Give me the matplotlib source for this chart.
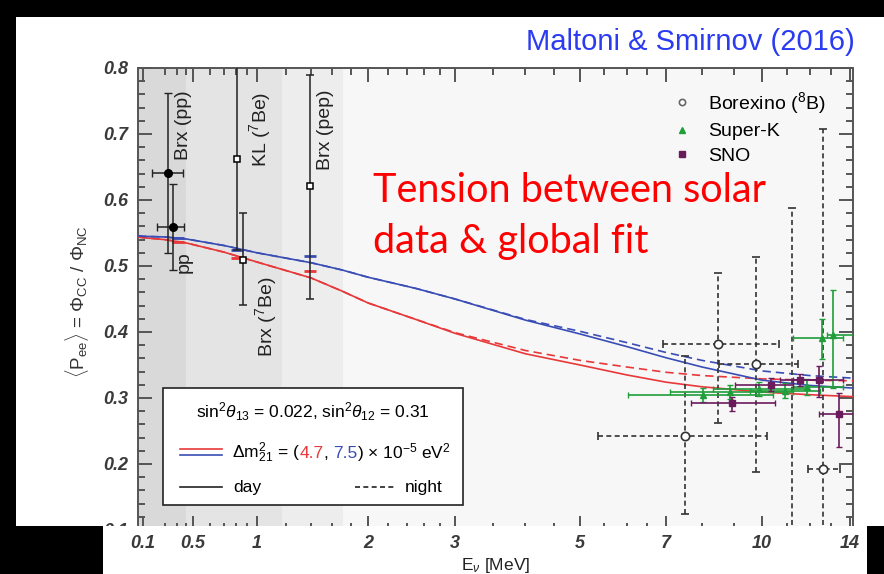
import matplotlib
matplotlib.use('Agg')
import matplotlib.pyplot as plt
import numpy as np
from matplotlib.patches import Rectangle
from matplotlib.ticker import FixedLocator, FixedFormatter, MultipleLocator, NullFormatter

plt.rcParams['font.family'] = ['Liberation Sans', 'DejaVu Sans']
plt.rcParams['mathtext.fontset'] = 'custom'
plt.rcParams['mathtext.rm'] = 'Liberation Sans'
plt.rcParams['mathtext.it'] = 'Liberation Sans:italic'
plt.rcParams['mathtext.bf'] = 'Liberation Sans:bold'

# ---- model curves (P_ee vs E) ----
curve_e = [0.085, 0.1, 0.2, 0.4, 0.7, 1.0, 1.4, 1.7, 2.0, 2.5, 3.0, 4.0, 5.0, 6.0, 7.0, 8.0, 10.0, 12.0, 14.2]
blue_day = [0.546, 0.545, 0.544, 0.541, 0.531, 0.520, 0.505, 0.494, 0.483, 0.466, 0.450, 0.418, 0.397, 0.378, 0.361, 0.347, 0.327, 0.319, 0.315]
blue_night = [0.546, 0.545, 0.544, 0.541, 0.531, 0.520, 0.505, 0.494, 0.483, 0.466, 0.450, 0.419, 0.401, 0.384, 0.369, 0.357, 0.341, 0.334, 0.330]
red_day = [0.544, 0.543, 0.540, 0.535, 0.521, 0.506, 0.482, 0.462, 0.444, 0.419, 0.398, 0.367, 0.350, 0.335, 0.324, 0.317, 0.309, 0.305, 0.302]
red_night = [0.544, 0.543, 0.540, 0.535, 0.521, 0.506, 0.482, 0.462, 0.444, 0.419, 0.399, 0.372, 0.357, 0.347, 0.339, 0.334, 0.329, 0.327, 0.326]

# model predictions marked at the low energy lines
model_e = [0.309, 0.805, 1.392]
model_blue = [0.543, 0.524, 0.515]
model_red = [0.536, 0.512, 0.492]

# ---- low energy points ----
pp_e = [0.224, 0.263]
pp_y = [0.641, 0.559]
pp_ylo = [0.520, 0.494]
pp_yhi = [0.762, 0.624]
pp_elo = [0.134, 0.157]
pp_ehi = [0.362, 0.374]

sq_e = [0.805, 0.859, 1.392]          # KL(7Be), Brx(7Be), Brx(pep)
sq_y = [0.662, 0.509, 0.621]
sq_ylo = [0.524, 0.441, 0.450]
sq_yhi = [0.900, 0.580, 0.790]

# ---- Borexino 8B ----
b8_e = [8.49, 9.78, 7.51, 12.63, 11.22]
b8_y = [0.382, 0.352, 0.242, 0.192, 0.05]
b8_ylo = [0.262, 0.188, 0.124, 0.02, 0.0]
b8_yhi = [0.490, 0.514, 0.364, 0.707, 0.588]
b8_elo = [6.92, 8.52, 5.36, 11.92, 11.22]
b8_ehi = [10.67, 11.48, 10.19, 13.48, 11.22]

# ---- Super-K ----
sk_e = [8.03, 8.88, 9.89, 10.92, 11.88, 12.58, 13.12]
sk_y = [0.305, 0.309, 0.314, 0.311, 0.317, 0.391, 0.395]
sk_ylo = [0.294, 0.298, 0.303, 0.300, 0.305, 0.359, 0.315]
sk_yhi = [0.315, 0.320, 0.325, 0.322, 0.329, 0.420, 0.464]
sk_elo = [6.03, 7.10, 8.34, 9.56, 11.26, 11.26, 12.82]
sk_ehi = [10.43, 11.26, 11.88, 12.48, 13.63, 13.63, 14.6]

# ---- SNO ----
sno_e = [8.95, 10.35, 11.56, 12.44, 13.42]
sno_y = [0.292, 0.320, 0.327, 0.327, 0.276]
sno_ylo = [0.280, 0.311, 0.318, 0.302, 0.226]
sno_yhi = [0.302, 0.330, 0.336, 0.348, 0.307]
sno_elo = [7.68, 9.05, 10.71, 11.26, 12.44]
sno_ehi = [10.51, 11.26, 12.48, 13.63, 14.4]

# shaded energy ranges
band_lo = [0.085, 0.40, 1.17]
band_hi = [0.40, 1.17, 1.71]
band_col = ['#d9d9d9', '#e4e4e4', '#ededed']

x_major = [0.1, 0.5, 1, 2, 3, 5, 7, 10, 14]
x_major_lab = ['0.1', '0.5', '1', '2', '3', '5', '7', '10', '14']
x_minor = [0.2, 0.3, 0.4, 0.6, 0.7, 0.8, 0.9, 1.2, 1.4, 1.6, 1.8, 2.2, 2.4, 2.6, 2.8,
           3.5, 4, 4.5, 5.5, 6, 6.5, 8, 9, 11, 12, 13]

# compressed energy axis: piecewise log between anchor energies
KNOT_E = np.log(np.array([0.1, 0.5, 1, 2, 3, 5, 7, 10, 14]))
KNOT_P = np.array([143, 193, 257, 368, 455, 580, 666, 762, 850], float)
S0 = (KNOT_P[1] - KNOT_P[0]) / (KNOT_E[1] - KNOT_E[0])
S1 = (KNOT_P[-1] - KNOT_P[-2]) / (KNOT_E[-1] - KNOT_E[-2])

def fwd(e):
    le = np.log(np.clip(np.asarray(e, float), 1e-9, None))
    p = np.interp(le, KNOT_E, KNOT_P)
    p = np.where(le < KNOT_E[0], KNOT_P[0] + (le - KNOT_E[0]) * S0, p)
    p = np.where(le > KNOT_E[-1], KNOT_P[-1] + (le - KNOT_E[-1]) * S1, p)
    return p

def inv(p):
    p = np.asarray(p, float)
    le = np.interp(p, KNOT_P, KNOT_E)
    le = np.where(p < KNOT_P[0], KNOT_E[0] + (p - KNOT_P[0]) / S0, le)
    le = np.where(p > KNOT_P[-1], KNOT_E[-1] + (p - KNOT_P[-1]) / S1, le)
    return np.exp(le)

W, H = 884, 574
RED = '#e8383a'
BLUE = '#3a4db5'
GREEN = '#1f9e3a'
PURPLE = '#6a1b5c'
GREY = '#3a3a3a'

fig = plt.figure(figsize=(W / 100, H / 100), dpi=100, facecolor='black')
fig.add_artist(Rectangle((16 / W, (H - 526) / H), (W - 16) / W, (526 - 17) / H,
                         transform=fig.transFigure, fc='white', ec='none', zorder=-1))
fig.add_artist(Rectangle((103 / W, 0), (867 - 103) / W, (H - 526) / H,
                         transform=fig.transFigure, fc='white', ec='none', zorder=1))

ax = fig.add_axes([138 / W, (H - 530) / H, 715 / W, 462 / H])
ax.set_facecolor('#f7f7f7')
ax.set_xscale('function', functions=(fwd, inv))
ax.set_xlim(0.085, 14.16)
ax.set_ylim(0.1, 0.8)

for lo, hi, c in zip(band_lo, band_hi, band_col):
    ax.axvspan(lo, hi, color=c, lw=0, zorder=0)

# curves
ax.plot(curve_e, red_day, color=RED, lw=1.2, zorder=3)
ax.plot(curve_e, red_night, color=RED, lw=1.2, ls=(0, (5, 3)), zorder=3)
ax.plot(curve_e, blue_day, color=BLUE, lw=1.2, zorder=3)
ax.plot(curve_e, blue_night, color=BLUE, lw=1.2, ls=(0, (5, 3)), zorder=3)
ax.plot(model_e, model_blue, ls='none', marker='_', ms=8, mew=2, color=BLUE, zorder=4)
ax.plot(model_e, model_red, ls='none', marker='_', ms=8, mew=2, color=RED, zorder=4)

# low energy data
pp_e_a = np.array(pp_e)
ax.errorbar(pp_e, pp_y,
            yerr=[np.array(pp_y) - pp_ylo, np.array(pp_yhi) - pp_y],
            xerr=[pp_e_a - pp_elo, np.array(pp_ehi) - pp_e_a],
            fmt='o', ms=5.5, color='black', ecolor='#222222', elinewidth=1.1, capsize=3, zorder=5)
ax.errorbar(sq_e, sq_y, yerr=[np.array(sq_y) - sq_ylo, np.array(sq_yhi) - sq_y],
            fmt='s', ms=5, mfc='white', mec='black', mew=1.1, color='#222222',
            elinewidth=1.1, capsize=3, zorder=5)

# Borexino 8B, dashed bars
b8 = ax.errorbar(b8_e, b8_y, yerr=[np.array(b8_y) - b8_ylo, np.array(b8_yhi) - b8_y],
                 xerr=[np.array(b8_e) - b8_elo, np.array(b8_ehi) - b8_e],
                 fmt='o', ms=6, mfc='white', mec='#333333', mew=1.2, color='#333333',
                 elinewidth=1.2, capsize=3, zorder=5)
for lc in b8[2]:
    lc.set_linestyle((0, (3, 2)))

ax.errorbar(sk_e, sk_y, yerr=[np.array(sk_y) - sk_ylo, np.array(sk_yhi) - sk_y],
            xerr=[np.array(sk_e) - sk_elo, np.array(sk_ehi) - sk_e],
            fmt='^', ms=5, color=GREEN, elinewidth=1.2, capsize=2.5, zorder=6)
ax.errorbar(sno_e, sno_y, yerr=[np.array(sno_y) - sno_ylo, np.array(sno_yhi) - sno_y],
            xerr=[np.array(sno_e) - sno_elo, np.array(sno_ehi) - sno_e],
            fmt='s', ms=5, color=PURPLE, elinewidth=1.2, capsize=2.5, zorder=7)

# rotated labels of the low energy points
lab_kw = dict(rotation=90, fontsize=14, color='#222222', ha='center', zorder=8)
ax.text(0.362, 0.661, 'Brx (pp)', va='bottom', **lab_kw)
ax.text(0.375, 0.522, 'pp', va='top', **lab_kw)
ax.text(1.02, 0.650, r'KL ($^7$Be)', va='bottom', **lab_kw)
ax.text(1.06, 0.484, r'Brx ($^7$Be)', va='top', **lab_kw)
ax.text(1.53, 0.645, 'Brx (pep)', va='bottom', **lab_kw)

# axis styling
ax.xaxis.set_major_locator(FixedLocator(x_major))
ax.xaxis.set_minor_locator(FixedLocator(x_minor))
ax.xaxis.set_major_formatter(NullFormatter())
ax.xaxis.set_minor_formatter(NullFormatter())
ax.yaxis.set_major_locator(MultipleLocator(0.1))
ax.yaxis.set_minor_locator(MultipleLocator(0.02))
ax.tick_params(which='both', direction='in', top=True, right=True, color='#555555', width=1.4)
ax.tick_params(which='major', length=10)
ax.tick_params(which='minor', length=5)
ax.tick_params(axis='y', which='major', pad=7, labelsize=13, labelcolor=GREY)
for t in ax.get_yticklabels():
    t.set_fontstyle('italic')
    t.set_fontweight('bold')
for s in ax.spines.values():
    s.set_color('#555555')
    s.set_linewidth(1.4)

# data legend (top right)
hb = ax.plot([], [], 'o', ms=4.5, mfc='white', mec='#666666', mew=1.2)[0]
hs = ax.plot([], [], '^', ms=5, color=GREEN)[0]
hn = ax.plot([], [], 's', ms=4.5, color=PURPLE)[0]
ax.legend([hb, hs, hn], [r'Borexino ($^8$B)', 'Super-K', 'SNO'], loc='upper right',
          bbox_to_anchor=(0.972, 0.969), frameon=False, fontsize=14, handlelength=1.0,
          handletextpad=0.8, labelspacing=0.35, borderaxespad=0)

# parameter box (bottom left)
ax.add_patch(Rectangle((0.035, 0.054), 0.42, 0.253, transform=ax.transAxes,
                       fc='white', ec='#222222', lw=1.2, zorder=10))
ax.text(0.245, 0.242, r'sin$^2\theta_{13}$ = 0.022, sin$^2\theta_{12}$ = 0.31',
        transform=ax.transAxes, ha='center', va='baseline', fontsize=12.5, zorder=11)
ax.plot([0.059, 0.117], [0.175, 0.175], transform=ax.transAxes, color=RED, lw=1.2, zorder=11)
ax.plot([0.059, 0.117], [0.162, 0.162], transform=ax.transAxes, color=BLUE, lw=1.2, zorder=11)
pieces = [(r'$\Delta$m$^2_{21}$ = (', 'black'), ('4.7', RED), (', ', 'black'),
          ('7.5', BLUE), (r') $\times$ 10$^{-5}$ eV$^2$', 'black')]
prev = ax.text(0.131, 0.156, pieces[0][0], color=pieces[0][1], transform=ax.transAxes,
               ha='left', va='baseline', fontsize=12.5, zorder=11)
for s, c in pieces[1:]:
    prev = ax.annotate(s, xy=(1, 0.156), xycoords=(prev, 'axes fraction'), ha='left',
                       va='baseline', color=c, fontsize=12.5, zorder=11)
ax.plot([0.059, 0.117], [0.093, 0.093], transform=ax.transAxes, color='#222222', lw=1.2, zorder=11)
ax.text(0.133, 0.082, 'day', transform=ax.transAxes, ha='left', va='baseline', fontsize=12.5, zorder=11)
ax.plot([0.303, 0.359], [0.093, 0.093], transform=ax.transAxes, color='#222222', lw=1.2,
        ls=(0, (3, 2)), zorder=11)
ax.text(0.373, 0.082, 'night', transform=ax.transAxes, ha='left', va='baseline', fontsize=12.5, zorder=11)

# x tick labels live on a strip axes over the pasted white band
ax2 = fig.add_axes([138 / W, (H - 531) / H, 715 / W, 1 / H], zorder=2)
ax2.set_facecolor('none')
ax2.set_xscale('function', functions=(fwd, inv))
ax2.set_xlim(ax.get_xlim())
ax2.xaxis.set_major_locator(FixedLocator(x_major))
ax2.xaxis.set_major_formatter(FixedFormatter(x_major_lab))
ax2.xaxis.set_minor_locator(FixedLocator([]))
ax2.set_yticks([])
ax2.tick_params(axis='x', length=0, pad=3, labelsize=13, labelcolor=GREY)
for t in ax2.get_xticklabels():
    t.set_fontstyle('italic')
    t.set_fontweight('bold')
for s in ax2.spines.values():
    s.set_visible(False)
ax2.set_xlabel(r'E$_\nu$ [MeV]', fontsize=12.5, color='#222222', labelpad=3)

fig.text(77 / W, (H - 302) / H, r'$\langle$P$_{\rm ee}\rangle$ = $\Phi_{\rm CC}$ / $\Phi_{\rm NC}$',
         rotation=90, ha='center', va='center', fontsize=13.5, color='#333333')

fig.text(855 / W, (H - 50) / H, 'Maltoni & Smirnov (2016)', ha='right', va='baseline',
         fontsize=21, color='#2b3bf2')

fig.text(373 / W, (H - 202) / H, 'Tension between solar', family=['Lato', 'DejaVu Sans'],
         fontsize=28.5, color='#ff0000', ha='left', va='baseline')
fig.text(373 / W, (H - 253) / H, 'data & global fit', family=['Lato', 'DejaVu Sans'],
         fontsize=28.5, color='#ff0000', ha='left', va='baseline')

fig.savefig('out.png', dpi=100, facecolor=fig.get_facecolor())
